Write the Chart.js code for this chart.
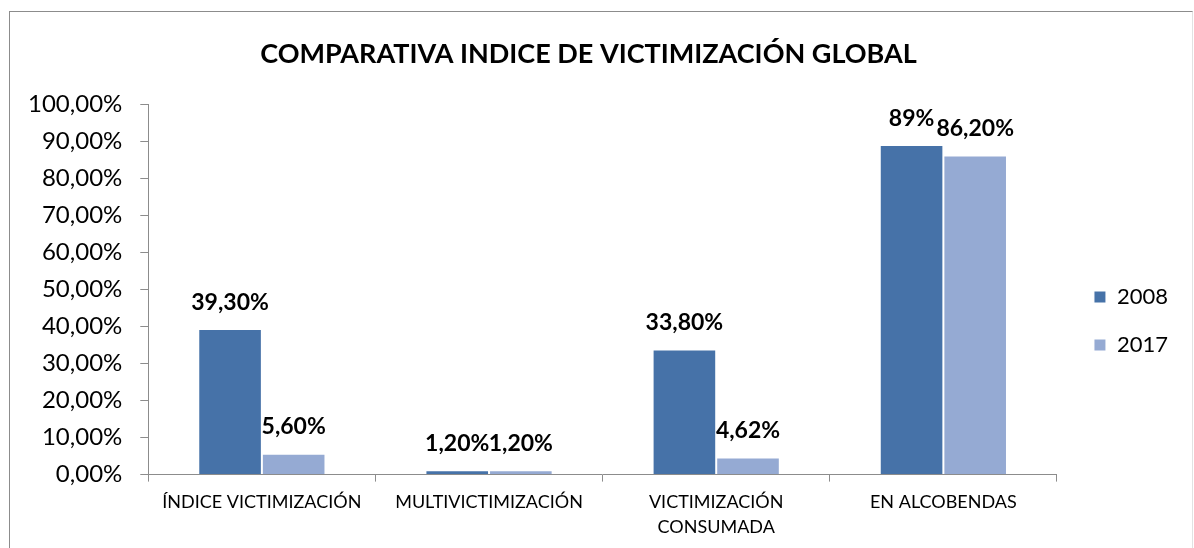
<!DOCTYPE html>
<html>
<head>
<meta charset="utf-8">
<script src="https://cdn.jsdelivr.net/npm/chart.js@4/dist/chart.umd.min.js"></script>
<style>
    html, body { margin: 0; padding: 0; background: #fff; overflow: hidden; }
    #wrap { position: relative; width: 1194px; height: 548px; }
    #frame { position: absolute; left: 9px; top: 11px; width: 1182px; height: 600px;
             border-top: 1px solid #8c8c8c; border-left: 1px solid #8c8c8c; border-right: 1px solid #e2e2e2; }
    #box { position: absolute; left: 0; top: 0; width: 1194px; height: 548px; }
</style>
</head>
<body>
<div id="wrap">
    <div id="frame"></div>
    <div id="box"><canvas id="chart"></canvas></div>
</div>
<script>
// Datos del gráfico
const categories = ['ÍNDICE VICTIMIZACIÓN', 'MULTIVICTIMIZACIÓN', ['VICTIMIZACIÓN', 'CONSUMADA'], 'EN ALCOBENDAS'];
const values2008 = [39.3, 1.2, 33.8, 89];
const values2017 = [5.6, 1.2, 4.62, 86.2];
const labels2008 = ['39,30%', '1,20%', '33,80%', '89%'];
const labels2017 = ['5,60%', '1,20%', '4,62%', '86,20%'];

const FONT = 'Lato, "Open Sans", sans-serif';

// Etiquetas de datos encima de cada barra
const valueLabels = {
    id: 'valueLabels',
    afterDatasetsDraw(chart) {
        const ctx = chart.ctx;
        ctx.save();
        ctx.font = 'bold 23px ' + FONT;
        ctx.fillStyle = '#000';
        ctx.textAlign = 'center';
        ctx.textBaseline = 'middle';
        chart.data.datasets.forEach((ds, i) => {
            const meta = chart.getDatasetMeta(i);
            meta.data.forEach((bar, j) => {
                ctx.fillText(ds.valueLabels[j], bar.x, bar.y - 27);
            });
        });
        ctx.restore();
    }
};

// Desplaza la leyenda a su sitio (más a la derecha y más abajo)
const legendShift = {
    id: 'legendShift',
    afterLayout(chart) {
        const lg = chart.legend;
        lg.left += 11; lg.right += 11;
        lg.top += 33; lg.bottom += 33;
    }
};

new Chart(document.getElementById('chart'), {
    type: 'bar',
    data: {
        labels: categories,
        datasets: [
            {
                label: '2008',
                data: values2008,
                valueLabels: labels2008,
                backgroundColor: '#4672a8',
                borderColor: '#ffffff',
                borderWidth: 1,
                categoryPercentage: 0.56,
                barPercentage: 1.0
            },
            {
                label: '2017',
                data: values2017,
                valueLabels: labels2017,
                backgroundColor: '#95aad3',
                borderColor: '#ffffff',
                borderWidth: 1,
                categoryPercentage: 0.56,
                barPercentage: 1.0
            }
        ]
    },
    options: {
        responsive: true,
        maintainAspectRatio: false,
        animation: false,
        layout: { padding: { top: 28, left: 10, right: 27, bottom: 0 } },
        plugins: {
            title: {
                display: true,
                text: 'COMPARATIVA INDICE DE VICTIMIZACIÓN GLOBAL',
                color: '#000',
                font: { family: FONT, size: 27, weight: 'bold', lineHeight: 1.2 },
                padding: { top: 10, bottom: 34 }
            },
            legend: {
                position: 'right',
                labels: {
                    color: '#000',
                    font: { family: FONT, size: 22 },
                    boxWidth: 12,
                    boxHeight: 12,
                    padding: 26
                }
            },
            tooltip: { enabled: false }
        },
        scales: {
            x: {
                grid: { drawOnChartArea: false, drawTicks: true, tickLength: 7, color: '#8c8c8c' },
                border: { display: true, color: '#8c8c8c' },
                ticks: { color: '#000', font: { family: FONT, size: 18, lineHeight: 1.4 }, padding: 8, maxRotation: 0 }
            },
            y: {
                min: 0,
                max: 100,
                grid: { drawOnChartArea: false, drawTicks: true, tickLength: 8, color: '#8c8c8c' },
                border: { display: true, color: '#8c8c8c' },
                ticks: {
                    stepSize: 10,
                    color: '#000',
                    font: { family: FONT, size: 24 },
                    padding: 18,
                    callback: v => v.toFixed(2).replace('.', ',') + '%'
                }
            }
        }
    },
    plugins: [valueLabels, legendShift]
});
</script>
</body>
</html>
